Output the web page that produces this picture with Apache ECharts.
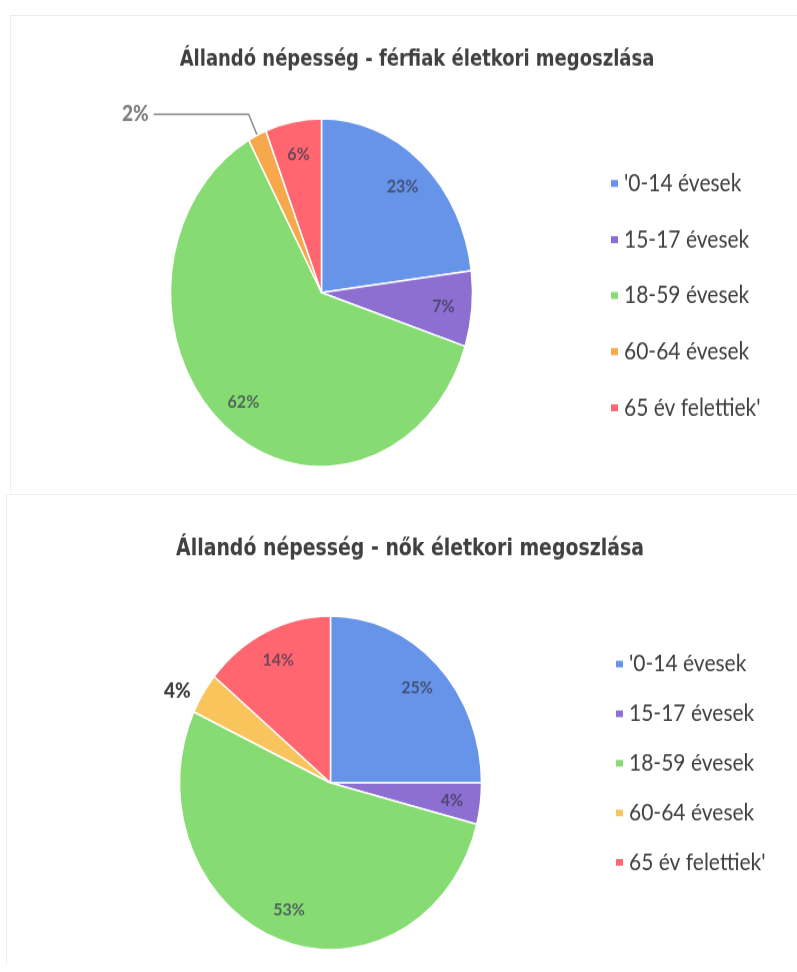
<!DOCTYPE html>
<html>
<head>
<meta charset="utf-8">
<title>Állandó népesség - életkori megoszlás</title>
<script src="https://cdn.jsdelivr.net/npm/echarts@6/dist/echarts.min.js"></script>
<style>
  html, body { margin: 0; padding: 0; background: #fff; }
  body { width: 797px; height: 972px; position: relative; overflow: hidden; }
  .box { position: absolute; left: 0; width: 797px; transform-origin: 0 0; }
  #men { top: 0; height: 422px; transform: scaleY(1.152); }
  #women { top: 490px; height: 437px; transform: scaleY(1.105); }
  .frame { position: absolute; background: #ececec; }
</style>
</head>
<body>
<div class="frame" style="left:10px;top:15px;width:787px;height:1px"></div>
<div class="frame" style="left:10px;top:15px;width:1px;height:475px"></div>
<div class="frame" style="left:10px;top:494px;width:787px;height:1px"></div>
<div class="frame" style="left:6px;top:494px;width:1px;height:470px"></div>
<div id="men" class="box"></div>
<div id="women" class="box"></div>
<script>
// korcsoportok
const categories = ["'0-14 évesek", '15-17 évesek', '18-59 évesek', '60-64 évesek', "65 év felettiek'"];
// férfiak megoszlása (%)
const maleShare = [23, 7, 62, 2, 6];
// nők megoszlása (%)
const femaleShare = [25, 4, 53, 4, 14];

const titleFont = "'Liberation Sans Narrow', 'DejaVu Sans Condensed', 'Roboto', sans-serif";
const textFont = "Lato, 'Open Sans', sans-serif";

function buildOption(cfg) {
  const outIdx = cfg.outsideIndex;
  const pieData = categories.map((name, i) => ({
    name: name,
    value: cfg.values[i],
    itemStyle: { color: cfg.colors[i] },
    label: i === outIdx ? {
      show: true,
      position: 'outside',
      formatter: '{c}%',
      fontSize: 19,
      fontWeight: 900,
      fontFamily: textFont,
      color: cfg.outerColor
    } : { show: false },
    labelLine: i === outIdx ? {
      show: cfg.outerLine,
      length: cfg.lineLen[0],
      length2: cfg.lineLen[1],
      lineStyle: { color: '#8c8c8c', width: 1.5 }
    } : { show: false }
  }));
  // átlátszó gyűrű csak a belső feliratokhoz
  const labelData = categories.map((name, i) => ({
    name: name,
    value: cfg.values[i],
    label: { show: i !== outIdx }
  }));

  return {
    animation: false,
    title: {
      text: cfg.title,
      left: cfg.titleX,
      top: cfg.titleTop,
      textAlign: 'center',
      textStyle: {
        fontFamily: titleFont,
        fontSize: cfg.titleSize,
        fontWeight: 'bold',
        color: '#404040'
      }
    },
    legend: {
      orient: 'vertical',
      left: cfg.legendX,
      top: cfg.legendTop,
      data: categories,
      icon: 'rect',
      itemWidth: 9,
      itemHeight: 8,
      itemGap: cfg.legendGap,
      selectedMode: false,
      textStyle: {
        fontFamily: textFont,
        fontSize: 21,
        lineHeight: 20,
        color: '#404040'
      }
    },
    series: [
      {
        type: 'pie',
        center: cfg.center,
        radius: 151,
        startAngle: 90,
        clockwise: true,
        silent: true,
        itemStyle: { borderColor: '#ffffff', borderWidth: 1.5 },
        data: pieData
      },
      {
        type: 'pie',
        center: cfg.center,
        radius: [88, 151],
        startAngle: 90,
        clockwise: true,
        silent: true,
        itemStyle: { color: 'rgba(0,0,0,0)' },
        label: {
          position: 'inside',
          formatter: '{c}%',
          fontSize: 16,
          fontWeight: 'bold',
          fontFamily: textFont,
          color: 'rgba(55,55,80,0.72)'
        },
        labelLine: { show: false },
        data: labelData
      }
    ]
  };
}

const men = echarts.init(document.getElementById('men'));
men.setOption(buildOption({
  title: 'Állandó népesség - férfiak életkori megoszlása',
  titleX: 412,
  titleTop: 37,
  titleSize: 20,
  values: maleShare,
  outsideIndex: 3,
  colors: ['#6694e8', '#8c6fd0', '#86dc72', '#f6a84a', '#ff6670'],
  center: [321.5, 254],
  legendX: 604,
  legendTop: 143.7,
  legendGap: 27.7,
  outerColor: '#7f7f7f',
  outerLine: true,
  lineLen: [20, 95]
}));

const women = echarts.init(document.getElementById('women'));
women.setOption(buildOption({
  title: 'Állandó népesség - nők életkori megoszlása',
  titleX: 405,
  titleTop: 38,
  titleSize: 21,
  values: femaleShare,
  outsideIndex: 3,
  colors: ['#6694e8', '#8c6fd0', '#86dc72', '#fac45c', '#ff6670'],
  center: [330.5, 265],
  legendX: 609,
  legendTop: 142,
  legendGap: 23.9,
  outerColor: '#404040',
  outerLine: false,
  lineLen: [4, 4]
}));
</script>
</body>
</html>
